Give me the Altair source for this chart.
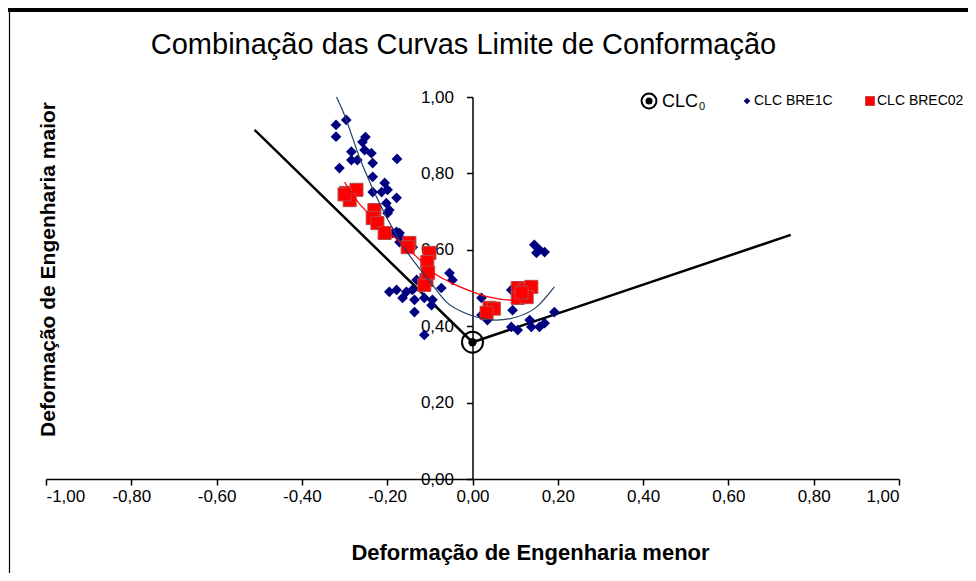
import altair as alt
import pandas as pd

# ---------------- data ----------------
bre10_x = [-0.320, -0.296, -0.320, -0.251, -0.258, -0.253, -0.237, -0.284, -0.284, -0.270,
           -0.234, -0.312, -0.177, -0.234, -0.206, -0.213, -0.199, -0.234, -0.178, -0.202,
           -0.195, -0.199, -0.178, -0.171, -0.155, -0.140, -0.187, -0.171, -0.171, -0.195,
           -0.178, -0.155, -0.141, -0.164, -0.136, -0.136, -0.131, -0.113, -0.113, -0.096,
           -0.054, -0.047, -0.073, -0.094, 0.021, 0.021, 0.035, 0.094, 0.091, 0.091,
           0.106, 0.138, 0.157, 0.134, 0.169, 0.192, 0.145, 0.157, 0.169, 0.150]
bre10_y = [0.927, 0.940, 0.896, 0.895, 0.882, 0.861, 0.853, 0.857, 0.835, 0.835,
           0.827, 0.814, 0.838, 0.791, 0.775, 0.751, 0.757, 0.751, 0.736, 0.722,
           0.704, 0.696, 0.647, 0.634, 0.618, 0.607, 0.644, 0.644, 0.620, 0.490,
           0.495, 0.490, 0.495, 0.474, 0.469, 0.437, 0.521, 0.377, 0.474, 0.455,
           0.539, 0.521, 0.500, 0.469, 0.474, 0.429, 0.416, 0.442, 0.495, 0.398,
           0.390, 0.398, 0.398, 0.416, 0.408, 0.437, 0.613, 0.600, 0.594, 0.592]

bre02_x = [-0.296, -0.272, -0.288, -0.300, -0.230, -0.234, -0.223, -0.206, -0.148, -0.152,
           -0.101, -0.106, -0.108, -0.113, -0.104, 0.040, 0.050, 0.033, 0.106, 0.122,
           0.138, 0.106, 0.127, 0.115]
bre02_y = [0.749, 0.757, 0.730, 0.745, 0.704, 0.683, 0.670, 0.644, 0.618, 0.607,
           0.592, 0.568, 0.521, 0.508, 0.540, 0.448, 0.446, 0.435, 0.500, 0.495,
           0.503, 0.474, 0.476, 0.488]

clc0_x = [-0.511, 0.0, 0.746]
clc0_y = [0.914, 0.358, 0.639]

trend10_x = [-0.319, -0.305, -0.260, -0.202, -0.152, -0.113, -0.094, -0.061, -0.023, 0.009,
             0.056, 0.103, 0.150, 0.192]
trend10_y = [1.000, 0.966, 0.827, 0.686, 0.592, 0.535, 0.508, 0.463, 0.437, 0.424,
             0.416, 0.424, 0.450, 0.503]

trend02_x = [-0.300, -0.265, -0.220, -0.178, -0.120, -0.100, -0.054, 0.000, 0.040, 0.094, 0.120]
trend02_y = [0.777, 0.720, 0.672, 0.628, 0.570, 0.547, 0.516, 0.490, 0.476, 0.468, 0.468]

x_ticks = [-1.0, -0.8, -0.6, -0.4, -0.2, 0.0, 0.2, 0.4, 0.6, 0.8, 1.0]
y_ticks = [0.0, 0.2, 0.4, 0.6, 0.8, 1.0]

title_text = "Combinação das Curvas Limite de Conformação"
x_title = "Deformação de Engenharia menor"
y_title = "Deformação de Engenharia maior"
legend_labels = ["CLC", "0", "CLC BRE1C", "CLC BREC02"]

# ---------------- layout ----------------
W, H = 853, 382
PL, PT, PR, PB = 38, 89, 69, 94
FONT = "Liberation Sans"

df10 = pd.DataFrame({"x": bre10_x, "y": bre10_y})
df02 = pd.DataFrame({"x": bre02_x, "y": bre02_y})
dfc0 = pd.DataFrame({"x": clc0_x, "y": clc0_y, "i": range(len(clc0_x))})
dft10 = pd.DataFrame({"x": trend10_x, "y": trend10_y, "i": range(len(trend10_x))})
dft02 = pd.DataFrame({"x": trend02_x, "y": trend02_y, "i": range(len(trend02_x))})
origin = pd.DataFrame({"x": [clc0_x[1]], "y": [clc0_y[1]]})
one = pd.DataFrame({"a": [0]})

xs = alt.Scale(domain=[-1, 1], nice=False, zero=False)
ys = alt.Scale(domain=[0, 1], nice=False, zero=False)
lab = "replace(replace(format(datum.value, '.2f'), '.', ','), '\u2212', '-')"

x_axis = alt.Axis(values=x_ticks, labelExpr=lab, title=x_title, grid=False,
                  labelFont=FONT, labelFontSize=17, labelColor="black", labelPadding=3,
                  tickColor="black", tickSize=6, tickWidth=1.5,
                  domainColor="black", domainWidth=1.5,
                  titleFont=FONT, titleFontSize=22, titleFontWeight="bold", titleColor="black",
                  titleX=484, titleY=73, titleAlign="center", titleBaseline="middle")
y_axis = alt.Axis(values=y_ticks, labelExpr=lab, title=y_title, grid=False, offset=-W / 2,
                  labelFont=FONT, labelFontSize=17, labelColor="black", labelPadding=13,
                  tickColor="black", tickSize=6, tickWidth=1.5,
                  domainColor="black", domainWidth=1.5,
                  titleFont=FONT, titleFontSize=21, titleFontWeight="bold", titleColor="black",
                  titleX=-W / 2 + 2, titleY=172, titleAngle=270,
                  titleAlign="center", titleBaseline="middle")

clc_line = alt.Chart(dfc0).mark_line(color="black", strokeWidth=2.5).encode(
    x=alt.X("x:Q", scale=xs, axis=x_axis),
    y=alt.Y("y:Q", scale=ys, axis=y_axis),
    order="i:Q")

pts10 = alt.Chart(df10).mark_point(shape="diamond", filled=True, color="#000080",
                                   size=115, opacity=1).encode(
    x=alt.X("x:Q", scale=xs), y=alt.Y("y:Q", scale=ys))

pts02 = alt.Chart(df02).mark_point(shape="square", filled=True, fill="#FF0000",
                                   stroke="#B84848", strokeWidth=1, size=170, opacity=1).encode(
    x=alt.X("x:Q", scale=xs), y=alt.Y("y:Q", scale=ys))

tr10 = alt.Chart(dft10).mark_line(color="#1F3F6A", strokeWidth=1.2, interpolate="monotone").encode(
    x=alt.X("x:Q", scale=xs), y=alt.Y("y:Q", scale=ys), order="i:Q")
tr02 = alt.Chart(dft02).mark_line(color="#FF0000", strokeWidth=1.2, interpolate="monotone").encode(
    x=alt.X("x:Q", scale=xs), y=alt.Y("y:Q", scale=ys), order="i:Q")

ring = alt.Chart(origin).mark_point(shape="circle", filled=False, stroke="black",
                                    strokeWidth=2, size=440, opacity=1).encode(
    x=alt.X("x:Q", scale=xs), y=alt.Y("y:Q", scale=ys))
dot = alt.Chart(origin).mark_point(shape="circle", filled=True, color="black",
                                   size=70, opacity=1).encode(
    x=alt.X("x:Q", scale=xs), y=alt.Y("y:Q", scale=ys))

# ---------------- title (as text above the plot) ----------------
title_mark = alt.Chart(one).mark_text(font=FONT, fontSize=29, align="center", baseline="middle",
                                      color="black").encode(
    x=alt.value(W / 2 - 9), y=alt.value(-52), text=alt.value(title_text))

# ---------------- legend (manual, top right) ----------------
LY = 4
lg = []
lg.append(alt.Chart(one).mark_point(shape="circle", filled=False, stroke="black", strokeWidth=2,
                                    size=220, opacity=1).encode(x=alt.value(603), y=alt.value(LY)))
lg.append(alt.Chart(one).mark_point(shape="circle", filled=True, color="black", size=50,
                                    opacity=1).encode(x=alt.value(603), y=alt.value(LY)))
lg.append(alt.Chart(one).mark_text(font=FONT, fontSize=18, align="left", baseline="middle",
                                   color="black").encode(x=alt.value(616), y=alt.value(LY + 1),
                                                         text=alt.value(legend_labels[0])))
lg.append(alt.Chart(one).mark_text(font=FONT, fontSize=11, align="left", baseline="middle",
                                   color="black").encode(x=alt.value(653), y=alt.value(LY + 6),
                                                         text=alt.value(legend_labels[1])))
lg.append(alt.Chart(one).mark_point(shape="diamond", filled=True, color="#000080", size=45,
                                    opacity=1).encode(x=alt.value(701), y=alt.value(LY)))
lg.append(alt.Chart(one).mark_text(font=FONT, fontSize=14, align="left", baseline="middle",
                                   color="black").encode(x=alt.value(708), y=alt.value(LY),
                                                         text=alt.value(legend_labels[2])))
lg.append(alt.Chart(one).mark_point(shape="square", filled=True, fill="#FF0000", stroke="#B84848",
                                    strokeWidth=1, size=80, opacity=1).encode(
    x=alt.value(824), y=alt.value(LY)))
lg.append(alt.Chart(one).mark_text(font=FONT, fontSize=14, align="left", baseline="middle",
                                   color="black").encode(x=alt.value(831), y=alt.value(LY),
                                                         text=alt.value(legend_labels[3])))

# ---------------- frame ----------------
frame_top = alt.Chart(one).mark_rule(color="black", strokeWidth=4).encode(
    x=alt.value(-PL), x2=alt.value(W + PR), y=alt.value(-PT + 2))
frame_left = alt.Chart(one).mark_rule(color="black", strokeWidth=1.2).encode(
    x=alt.value(-PL + 1.5), y=alt.value(-PT + 2), y2=alt.value(H + PB))

chart = alt.layer(clc_line, pts10, pts02, tr10, tr02, ring, dot, title_mark, *lg,
                  frame_top, frame_left).properties(
    width=W, height=H,
    padding={"left": PL, "top": PT, "right": PR, "bottom": PB},
    autosize=alt.AutoSizeParams(type="none"),
    background="white",
).configure_view(strokeWidth=0, stroke=None)

chart.save("out.html", embed_options={"renderer": "svg", "actions": False})
